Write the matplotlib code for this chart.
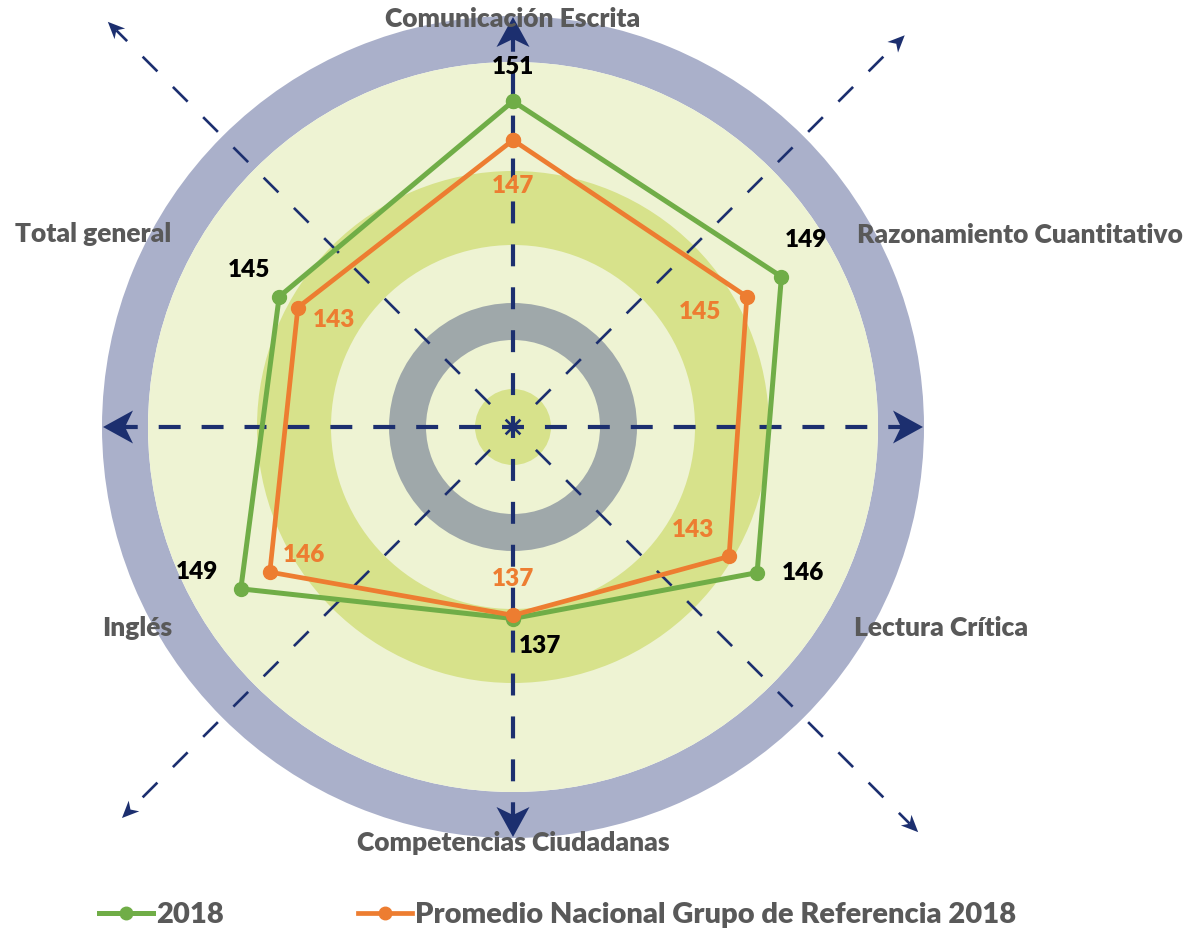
import numpy as np
import matplotlib
matplotlib.use("Agg")
import matplotlib.pyplot as plt
from matplotlib.patches import Circle, Wedge, Polygon
from matplotlib.lines import Line2D

plt.rcParams['lines.scale_dashes'] = False

# ---------------- data ----------------
categories = ["Comunicación Escrita", "Razonamiento Cuantitativo", "Lectura Crítica",
              "Competencias Ciudadanas", "Inglés", "Total general"]
series_2018 = [150.6, 148.7, 146.1, 137.3, 149.1, 145.0]
series_prom = [147.0, 145.0, 143.1, 137.0, 146.0, 143.0]
series_names = ["2018", "Promedio Nacional Grupo de Referencia 2018"]

# ---------------- style ----------------
GREEN = "#70ad47"
ORANGE = "#ed7d31"
NAVY = "#1c2f6f"
TXT = "#595959"
RING = "#aab0ca"
PALE = "#eef3d3"
MID = "#d7e28b"
GRAY = "#9fa8aa"
FONT = "Lato"
WEIGHT = "heavy"

W, H = 1188, 930
fig = plt.figure(figsize=(W / 100, H / 100), dpi=100)

# ---------------- decorative background (pixel units) ----------------
cx, cy, RD = 513, 427, 411
deco = fig.add_axes([(cx - RD) / W, (H - cy - RD) / H, 2 * RD / W, 2 * RD / H])
deco.set_xlim(-RD, RD)
deco.set_ylim(-RD, RD)
deco.axis("off")

deco.add_patch(Wedge((0, 0), 411, 0, 360, width=46, color=RING, lw=0))
deco.add_patch(Circle((0, 0), 365, color=PALE, lw=0))
deco.add_patch(Wedge((0, 0), 256, 0, 360, width=74, color=MID, lw=0))
deco.add_patch(Wedge((0, 0), 124, 0, 360, width=37, color=GRAY, lw=0))
deco.add_patch(Circle((0, 0), 38, color=MID, lw=0))


def arrow(ang_deg, tip, length, width, notch, lw, on, off):
    a = np.deg2rad(ang_deg)
    u = np.array([np.cos(a), np.sin(a)])
    n = np.array([-u[1], u[0]])
    back = tip - length
    end = back + notch
    deco.plot([0, end * u[0]], [0, end * u[1]], color=NAVY, lw=lw,
              linestyle=(on / 2, (on, off)), solid_capstyle="butt",
              dash_capstyle="butt", clip_on=False, zorder=3)
    pts = [tip * u, back * u + width / 2 * n, end * u, back * u - width / 2 * n]
    deco.add_patch(Polygon(pts, closed=True, color=NAVY, lw=0, clip_on=False, zorder=3))


for ang in (90, 270, 0, 180):
    arrow(ang, 410, 30, 33, 8, 3.0, 15.8, 15.1)
for ang, tip in ((45, 554), (135, 573), (225, 553), (315, 573)):
    arrow(ang, tip, 17, 15, 5, 1.9, 15.0, 15.8)

label_pos = [(0, 408), (507, 192), (428, -201), (0, -416), (-375.5, -201), (-420, 193)]
for name, (x, y) in zip(categories, label_pos):
    deco.text(x, y, name, ha="center", va="center", color=TXT, fontsize=19,
              fontweight=WEIGHT, family=FONT, clip_on=False, zorder=4)

# ---------------- radar (data) ----------------
R_MIN, R_MAX = 120, 159
PX_PER = 10.8
pcx, pcy = 513, 431.7
Rp = (R_MAX - R_MIN) * PX_PER
pax = fig.add_axes([(pcx - Rp) / W, (H - pcy - Rp) / H, 2 * Rp / W, 2 * Rp / H],
                   projection="polar")
pax.set_theta_zero_location("N")
pax.set_theta_direction(-1)
pax.set_ylim(R_MIN, R_MAX)
pax.axis("off")

theta = np.linspace(0, 2 * np.pi, len(categories), endpoint=False)
tc = np.append(theta, theta[0])

v18 = np.array(series_2018)
vpr = np.array(series_prom)
pax.plot(tc, np.append(v18, v18[0]), color=GREEN, lw=3.6, marker="o", ms=10,
         zorder=5, clip_on=False)
pax.plot(tc, np.append(vpr, vpr[0]), color=ORANGE, lw=3.4, marker="o", ms=10,
         zorder=6, clip_on=False)

off_2018 = [(0, 34), (25, 37), (46, 0), (27.5, -27), (-44, 17), (-30.5, 27)]
off_prom = [(0, -46), (-47, -15), (-36, 26), (0, 36.5), (34, 17), (36, -12)]
for t, v, o in zip(theta, v18, off_2018):
    pax.annotate(f"{v:.0f}", xy=(t, v), xytext=o, textcoords="offset pixels",
                 ha="center", va="center", color="black", fontsize=17.5,
                 fontweight=WEIGHT, family=FONT, annotation_clip=False, zorder=7)
for t, v, o in zip(theta, vpr, off_prom):
    pax.annotate(f"{v:.0f}", xy=(t, v), xytext=o, textcoords="offset pixels",
                 ha="center", va="center", color=ORANGE, fontsize=17.5,
                 fontweight=WEIGHT, family=FONT, annotation_clip=False, zorder=7)

# ---------------- legend ----------------
LFS = 21
lpx = LFS * 100 / 72
handles = [Line2D([], [], color=GREEN, lw=3.6, marker="o", ms=9),
           Line2D([], [], color=ORANGE, lw=3.4, marker="o", ms=9)]
fig.legend(handles, series_names, loc="center left",
           bbox_to_anchor=(99 / W, 1 - 915 / H), ncol=2, frameon=False,
           numpoints=1, handlelength=54 / lpx, handletextpad=3 / lpx,
           columnspacing=134 / lpx, borderpad=0, borderaxespad=0,
           labelcolor=TXT, prop=dict(family=FONT, weight=WEIGHT, size=LFS))

fig.savefig("out.png", dpi=100)
